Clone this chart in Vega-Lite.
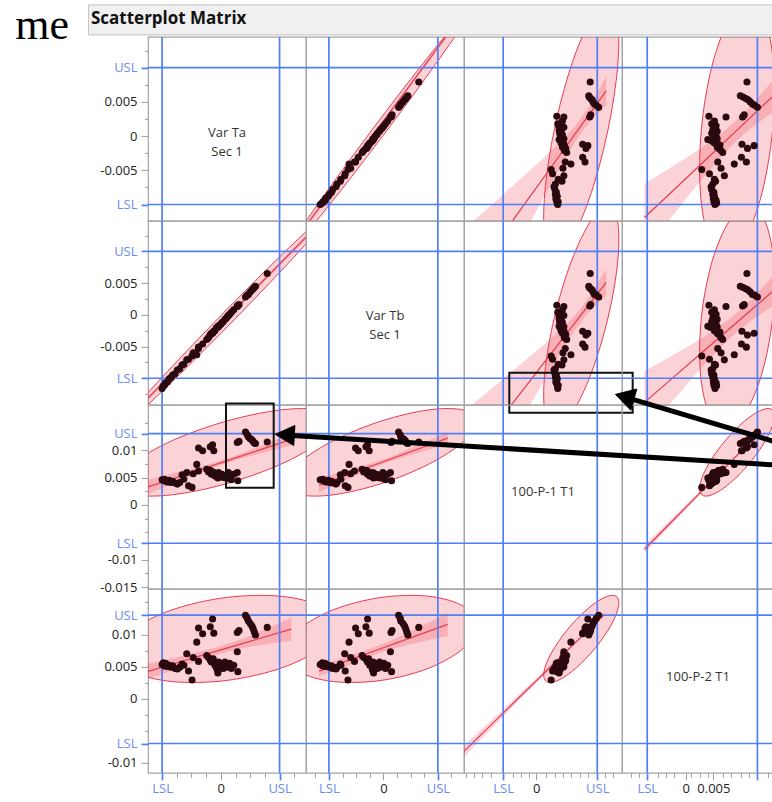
{
  "$schema": "https://vega.github.io/schema/vega-lite/v6.json",
  "background": "white",
  "padding": {"left": 14, "top": 3.4, "right": 0, "bottom": 0},
  "config": {
    "font": "Open Sans",
    "view": {"stroke": "#a4a4a4", "strokeWidth": 1.2},
    "axis": {"domain": false, "grid": false, "labelFont": "Open Sans", "labelFontSize": 13, "labelFlush": false, "labelOverlap": false, "labelBound": false, "tickWidth": 1},
    "text": {"font": "Open Sans"}
  },
  "datasets": {
    "pts": [
      {"Ta": -0.0100, "Tb": -0.0116, "P1": 0.0046, "P2": 0.0053},
      {"Ta": -0.0098, "Tb": -0.0112, "P1": 0.0045, "P2": 0.0056},
      {"Ta": -0.0096, "Tb": -0.0111, "P1": 0.0047, "P2": 0.0051},
      {"Ta": -0.0094, "Tb": -0.0107, "P1": 0.0043, "P2": 0.0055},
      {"Ta": -0.0091, "Tb": -0.0106, "P1": 0.0042, "P2": 0.0050},
      {"Ta": -0.0088, "Tb": -0.0101, "P1": 0.0045, "P2": 0.0052},
      {"Ta": -0.0085, "Tb": -0.0099, "P1": 0.0041, "P2": 0.0049},
      {"Ta": -0.0082, "Tb": -0.0095, "P1": 0.0043, "P2": 0.0051},
      {"Ta": -0.0078, "Tb": -0.0093, "P1": 0.0040, "P2": 0.0047},
      {"Ta": -0.0074, "Tb": -0.0087, "P1": 0.0038, "P2": 0.0046},
      {"Ta": -0.0070, "Tb": -0.0085, "P1": 0.0041, "P2": 0.0049},
      {"Ta": -0.0066, "Tb": -0.0079, "P1": 0.0055, "P2": 0.0054},
      {"Ta": -0.0063, "Tb": -0.0078, "P1": 0.0047, "P2": 0.0052},
      {"Ta": -0.0058, "Tb": -0.0071, "P1": 0.0059, "P2": 0.0070},
      {"Ta": -0.0055, "Tb": -0.0070, "P1": 0.0035, "P2": 0.0043},
      {"Ta": -0.0049, "Tb": -0.0065, "P1": 0.0032, "P2": 0.0029},
      {"Ta": -0.0047, "Tb": -0.0060, "P1": 0.0057, "P2": 0.0064},
      {"Ta": -0.0041, "Tb": -0.0063, "P1": 0.0074, "P2": 0.0088},
      {"Ta": -0.0038, "Tb": -0.0053, "P1": 0.0062, "P2": 0.0058},
      {"Ta": -0.0038, "Tb": -0.0051, "P1": 0.0104, "P2": 0.0110},
      {"Ta": -0.0031, "Tb": -0.0046, "P1": 0.0099, "P2": 0.0101},
      {"Ta": -0.0014, "Tb": -0.0029, "P1": 0.0110, "P2": 0.0124},
      {"Ta": -0.0018, "Tb": -0.0032, "P1": 0.0106, "P2": 0.0112},
      {"Ta": -0.0012, "Tb": -0.0026, "P1": 0.0099, "P2": 0.0102},
      {"Ta": -0.0024, "Tb": -0.0039, "P1": 0.0065, "P2": 0.0067},
      {"Ta": -0.0021, "Tb": -0.0036, "P1": 0.0060, "P2": 0.0064},
      {"Ta": -0.0018, "Tb": -0.0031, "P1": 0.0063, "P2": 0.0060},
      {"Ta": -0.0016, "Tb": -0.0029, "P1": 0.0056, "P2": 0.0057},
      {"Ta": -0.0013, "Tb": -0.0027, "P1": 0.0060, "P2": 0.0062},
      {"Ta": -0.0010, "Tb": -0.0025, "P1": 0.0053, "P2": 0.0052},
      {"Ta": -0.0008, "Tb": -0.0021, "P1": 0.0057, "P2": 0.0049},
      {"Ta": -0.0006, "Tb": -0.0020, "P1": 0.0051, "P2": 0.0045},
      {"Ta": -0.0005, "Tb": -0.0018, "P1": 0.0049, "P2": 0.0040},
      {"Ta": -0.0004, "Tb": -0.0019, "P1": 0.0059, "P2": 0.0057},
      {"Ta": -0.0002, "Tb": -0.0016, "P1": 0.0055, "P2": 0.0050},
      {"Ta": 0.0000, "Tb": -0.0015, "P1": 0.0052, "P2": 0.0055},
      {"Ta": 0.0002, "Tb": -0.0012, "P1": 0.0056, "P2": 0.0052},
      {"Ta": 0.0004, "Tb": -0.0011, "P1": 0.0050, "P2": 0.0047},
      {"Ta": 0.0007, "Tb": -0.0007, "P1": 0.0053, "P2": 0.0057},
      {"Ta": 0.0009, "Tb": -0.0006, "P1": 0.0049, "P2": 0.0049},
      {"Ta": 0.0011, "Tb": -0.0003, "P1": 0.0054, "P2": 0.0053},
      {"Ta": 0.0013, "Tb": -0.0001, "P1": 0.0059, "P2": 0.0050},
      {"Ta": 0.0015, "Tb": 0.0001, "P1": 0.0048, "P2": 0.0055},
      {"Ta": 0.0018, "Tb": 0.0004, "P1": 0.0046, "P2": 0.0047},
      {"Ta": 0.0022, "Tb": 0.0008, "P1": 0.0056, "P2": 0.0052},
      {"Ta": 0.0028, "Tb": 0.0013, "P1": 0.0059, "P2": 0.0073},
      {"Ta": 0.0029, "Tb": 0.0015, "P1": 0.0044, "P2": 0.0042},
      {"Ta": 0.0028, "Tb": 0.0014, "P1": 0.0114, "P2": 0.0103},
      {"Ta": 0.0031, "Tb": 0.0016, "P1": 0.0116, "P2": 0.0106},
      {"Ta": 0.0042, "Tb": 0.0028, "P1": 0.0133, "P2": 0.0130},
      {"Ta": 0.0045, "Tb": 0.0031, "P1": 0.0128, "P2": 0.0125},
      {"Ta": 0.0047, "Tb": 0.0032, "P1": 0.0124, "P2": 0.0121},
      {"Ta": 0.0050, "Tb": 0.0036, "P1": 0.0121, "P2": 0.0117},
      {"Ta": 0.0053, "Tb": 0.0039, "P1": 0.0119, "P2": 0.0113},
      {"Ta": 0.0055, "Tb": 0.0041, "P1": 0.0116, "P2": 0.0109},
      {"Ta": 0.0057, "Tb": 0.0043, "P1": 0.0113, "P2": 0.0104},
      {"Ta": 0.0059, "Tb": 0.0045, "P1": 0.0112, "P2": 0.0099},
      {"Ta": 0.0079, "Tb": 0.0065, "P1": 0.0115, "P2": 0.0111}
    ],
    "ell": [
      {"k": "TaTb", "i": 0, "a": 0.0197, "b": 0.01704},
      {"k": "TaTb", "i": 1, "a": 0.01722, "b": 0.01541},
      {"k": "TaTb", "i": 2, "a": 0.01045, "b": 0.00953},
      {"k": "TaTb", "i": 3, "a": 0.0012, "b": 0.0010},
      {"k": "TaTb", "i": 4, "a": -0.00805, "b": -0.00791},
      {"k": "TaTb", "i": 5, "a": -0.01482, "b": -0.01481},
      {"k": "TaTb", "i": 6, "a": -0.0173, "b": -0.01784},
      {"k": "TaTb", "i": 7, "a": -0.01482, "b": -0.01621},
      {"k": "TaTb", "i": 8, "a": -0.00805, "b": -0.01033},
      {"k": "TaTb", "i": 9, "a": 0.0012, "b": -0.0018},
      {"k": "TaTb", "i": 10, "a": 0.01045, "b": 0.00711},
      {"k": "TaTb", "i": 11, "a": 0.01722, "b": 0.01401},
      {"k": "TaP1", "i": 0, "a": 0.0195, "b": 0.0152},
      {"k": "TaP1", "i": 1, "a": 0.01702, "b": 0.01731},
      {"k": "TaP1", "i": 2, "a": 0.01025, "b": 0.01735},
      {"k": "TaP1", "i": 3, "a": 0.001, "b": 0.01531},
      {"k": "TaP1", "i": 4, "a": -0.00825, "b": 0.01175},
      {"k": "TaP1", "i": 5, "a": -0.01502, "b": 0.00761},
      {"k": "TaP1", "i": 6, "a": -0.0175, "b": 0.0040},
      {"k": "TaP1", "i": 7, "a": -0.01502, "b": 0.00189},
      {"k": "TaP1", "i": 8, "a": -0.00825, "b": 0.00185},
      {"k": "TaP1", "i": 9, "a": 0.001, "b": 0.00389},
      {"k": "TaP1", "i": 10, "a": 0.01025, "b": 0.00745},
      {"k": "TaP1", "i": 11, "a": 0.01702, "b": 0.01159},
      {"k": "TaP2", "i": 0, "a": 0.0195, "b": 0.01141},
      {"k": "TaP2", "i": 1, "a": 0.01702, "b": 0.01436},
      {"k": "TaP2", "i": 2, "a": 0.01025, "b": 0.01595},
      {"k": "TaP2", "i": 3, "a": 0.001, "b": 0.01577},
      {"k": "TaP2", "i": 4, "a": -0.00825, "b": 0.01385},
      {"k": "TaP2", "i": 5, "a": -0.01502, "b": 0.01071},
      {"k": "TaP2", "i": 6, "a": -0.0175, "b": 0.00719},
      {"k": "TaP2", "i": 7, "a": -0.01502, "b": 0.00424},
      {"k": "TaP2", "i": 8, "a": -0.00825, "b": 0.00265},
      {"k": "TaP2", "i": 9, "a": 0.001, "b": 0.00283},
      {"k": "TaP2", "i": 10, "a": 0.01025, "b": 0.00475},
      {"k": "TaP2", "i": 11, "a": 0.01702, "b": 0.00789},
      {"k": "TbP1", "i": 0, "a": 0.0171, "b": 0.0152},
      {"k": "TbP1", "i": 1, "a": 0.01476, "b": 0.01731},
      {"k": "TbP1", "i": 2, "a": 0.00835, "b": 0.01735},
      {"k": "TbP1", "i": 3, "a": -0.0004, "b": 0.01531},
      {"k": "TbP1", "i": 4, "a": -0.00915, "b": 0.01175},
      {"k": "TbP1", "i": 5, "a": -0.01556, "b": 0.00761},
      {"k": "TbP1", "i": 6, "a": -0.0179, "b": 0.0040},
      {"k": "TbP1", "i": 7, "a": -0.01556, "b": 0.00189},
      {"k": "TbP1", "i": 8, "a": -0.00915, "b": 0.00185},
      {"k": "TbP1", "i": 9, "a": -0.0004, "b": 0.00389},
      {"k": "TbP1", "i": 10, "a": 0.00835, "b": 0.00745},
      {"k": "TbP1", "i": 11, "a": 0.01476, "b": 0.01159},
      {"k": "TbP2", "i": 0, "a": 0.0171, "b": 0.01141},
      {"k": "TbP2", "i": 1, "a": 0.01476, "b": 0.01436},
      {"k": "TbP2", "i": 2, "a": 0.00835, "b": 0.01595},
      {"k": "TbP2", "i": 3, "a": -0.0004, "b": 0.01577},
      {"k": "TbP2", "i": 4, "a": -0.00915, "b": 0.01385},
      {"k": "TbP2", "i": 5, "a": -0.01556, "b": 0.01071},
      {"k": "TbP2", "i": 6, "a": -0.0179, "b": 0.00719},
      {"k": "TbP2", "i": 7, "a": -0.01556, "b": 0.00424},
      {"k": "TbP2", "i": 8, "a": -0.00915, "b": 0.00265},
      {"k": "TbP2", "i": 9, "a": -0.0004, "b": 0.00283},
      {"k": "TbP2", "i": 10, "a": 0.00835, "b": 0.00475},
      {"k": "TbP2", "i": 11, "a": 0.01476, "b": 0.00789},
      {"k": "P1P2", "i": 0, "a": 0.0176, "b": 0.01494},
      {"k": "P1P2", "i": 1, "a": 0.01653, "b": 0.01609},
      {"k": "P1P2", "i": 2, "a": 0.0136, "b": 0.01541},
      {"k": "P1P2", "i": 3, "a": 0.0096, "b": 0.01309},
      {"k": "P1P2", "i": 4, "a": 0.0056, "b": 0.00976},
      {"k": "P1P2", "i": 5, "a": 0.00267, "b": 0.00631},
      {"k": "P1P2", "i": 6, "a": 0.0016, "b": 0.00366},
      {"k": "P1P2", "i": 7, "a": 0.00267, "b": 0.00251},
      {"k": "P1P2", "i": 8, "a": 0.0056, "b": 0.00319},
      {"k": "P1P2", "i": 9, "a": 0.0096, "b": 0.00551},
      {"k": "P1P2", "i": 10, "a": 0.0136, "b": 0.00884},
      {"k": "P1P2", "i": 11, "a": 0.01653, "b": 0.01229}
    ],
    "fit": [
      {"p": "r1c2", "x": -0.0142, "fit": -0.0131, "lo": -0.0134, "hi": -0.0128},
      {"p": "r1c2", "x": 0.0148, "fit": 0.0181, "lo": 0.0178, "hi": 0.0184},
      {"p": "r2c1", "x": -0.0124, "fit": -0.01313, "lo": -0.01343, "hi": -0.01283},
      {"p": "r2c1", "x": 0.0145, "fit": 0.01224, "lo": 0.01194, "hi": 0.01254},
      {"p": "r1c3", "x": -0.0153, "fit": -0.0222, "lo": -0.0308, "hi": -0.0136},
      {"p": "r1c3", "x": -0.008, "fit": -0.01525, "lo": -0.02135, "hi": -0.00915},
      {"p": "r1c3", "x": -0.002, "fit": -0.00952, "lo": -0.01362, "hi": -0.00542},
      {"p": "r1c3", "x": 0.004, "fit": -0.00379, "lo": -0.00599, "hi": -0.00159},
      {"p": "r1c3", "x": 0.0096, "fit": 0.00156, "lo": 0.00046, "hi": 0.00266},
      {"p": "r1c3", "x": 0.0149, "fit": 0.00662, "lo": 0.00452, "hi": 0.00872},
      {"p": "r2c3", "x": -0.0153, "fit": -0.0238, "lo": -0.0324, "hi": -0.0152},
      {"p": "r2c3", "x": -0.008, "fit": -0.01682, "lo": -0.02292, "hi": -0.01072},
      {"p": "r2c3", "x": -0.002, "fit": -0.01107, "lo": -0.01517, "hi": -0.00697},
      {"p": "r2c3", "x": 0.004, "fit": -0.00533, "lo": -0.00753, "hi": -0.00313},
      {"p": "r2c3", "x": 0.0096, "fit": 0.00003, "lo": -0.00107, "hi": 0.00113},
      {"p": "r2c3", "x": 0.0149, "fit": 0.0051, "lo": 0.0030, "hi": 0.0072},
      {"p": "r1c4", "x": -0.0075, "fit": -0.01191, "lo": -0.01685, "hi": -0.00697},
      {"p": "r1c4", "x": -0.002, "fit": -0.00773, "lo": -0.01123, "hi": -0.00423},
      {"p": "r1c4", "x": 0.004, "fit": -0.00316, "lo": -0.00527, "hi": -0.00105},
      {"p": "r1c4", "x": 0.0093, "fit": 0.00087, "lo": -0.00063, "hi": 0.00237},
      {"p": "r1c4", "x": 0.0171, "fit": 0.00681, "lo": 0.00416, "hi": 0.00946},
      {"p": "r2c4", "x": -0.0075, "fit": -0.01381, "lo": -0.01875, "hi": -0.00887},
      {"p": "r2c4", "x": -0.002, "fit": -0.00967, "lo": -0.01317, "hi": -0.00617},
      {"p": "r2c4", "x": 0.004, "fit": -0.00516, "lo": -0.00727, "hi": -0.00305},
      {"p": "r2c4", "x": 0.0093, "fit": -0.00118, "lo": -0.00268, "hi": 0.00032},
      {"p": "r2c4", "x": 0.0171, "fit": 0.00469, "lo": 0.00204, "hi": 0.00734},
      {"p": "r3c1", "x": -0.0124, "fit": 0.00329, "lo": 0.00199, "hi": 0.00459},
      {"p": "r3c1", "x": -0.006, "fit": 0.00556, "lo": 0.0048, "hi": 0.00632},
      {"p": "r3c1", "x": 0.001, "fit": 0.00805, "lo": 0.00765, "hi": 0.00845},
      {"p": "r3c1", "x": 0.007, "fit": 0.01018, "lo": 0.0095, "hi": 0.01086},
      {"p": "r3c1", "x": 0.012, "fit": 0.01196, "lo": 0.01087, "hi": 0.01305},
      {"p": "r4c1", "x": -0.0124, "fit": 0.00424, "lo": 0.00304, "hi": 0.00544},
      {"p": "r4c1", "x": -0.006, "fit": 0.00597, "lo": 0.00517, "hi": 0.00677},
      {"p": "r4c1", "x": 0.001, "fit": 0.00786, "lo": 0.00726, "hi": 0.00846},
      {"p": "r4c1", "x": 0.007, "fit": 0.00948, "lo": 0.00838, "hi": 0.01058},
      {"p": "r4c1", "x": 0.012, "fit": 0.01083, "lo": 0.00903, "hi": 0.01263},
      {"p": "r3c2", "x": -0.0118, "fit": 0.0036, "lo": 0.0023, "hi": 0.0049},
      {"p": "r3c2", "x": -0.006, "fit": 0.00571, "lo": 0.00491, "hi": 0.00651},
      {"p": "r3c2", "x": -0.0004, "fit": 0.00775, "lo": 0.00735, "hi": 0.00815},
      {"p": "r3c2", "x": 0.006, "fit": 0.01008, "lo": 0.00938, "hi": 0.01078},
      {"p": "r3c2", "x": 0.0118, "fit": 0.0122, "lo": 0.0111, "hi": 0.0133},
      {"p": "r4c2", "x": -0.0118, "fit": 0.00428, "lo": 0.00348, "hi": 0.00508},
      {"p": "r4c2", "x": -0.006, "fit": 0.00607, "lo": 0.00537, "hi": 0.00677},
      {"p": "r4c2", "x": -0.0004, "fit": 0.0078, "lo": 0.0072, "hi": 0.0084},
      {"p": "r4c2", "x": 0.006, "fit": 0.00978, "lo": 0.00868, "hi": 0.01088},
      {"p": "r4c2", "x": 0.0118, "fit": 0.01157, "lo": 0.00977, "hi": 0.01337},
      {"p": "r3c4", "x": -0.0075, "fit": -0.00809, "lo": -0.00879, "hi": -0.00739},
      {"p": "r3c4", "x": -0.002, "fit": -0.00248, "lo": -0.00298, "hi": -0.00198},
      {"p": "r3c4", "x": 0.004, "fit": 0.00364, "lo": 0.00334, "hi": 0.00394},
      {"p": "r3c4", "x": 0.0093, "fit": 0.00905, "lo": 0.00885, "hi": 0.00925},
      {"p": "r3c4", "x": 0.0135, "fit": 0.01333, "lo": 0.01303, "hi": 0.01363},
      {"p": "r4c3", "x": -0.0153, "fit": -0.00819, "lo": -0.00909, "hi": -0.00729},
      {"p": "r4c3", "x": -0.008, "fit": -0.00296, "lo": -0.00356, "hi": -0.00236},
      {"p": "r4c3", "x": -0.001, "fit": 0.00204, "lo": 0.00164, "hi": 0.00244},
      {"p": "r4c3", "x": 0.005, "fit": 0.00633, "lo": 0.00608, "hi": 0.00658},
      {"p": "r4c3", "x": 0.0096, "fit": 0.00963, "lo": 0.00943, "hi": 0.00983},
      {"p": "r4c3", "x": 0.0145, "fit": 0.01313, "lo": 0.01283, "hi": 0.01343}
    ],
    "lims": [
      {"v": "Ta", "lim": -0.01}, {"v": "Ta", "lim": 0.01},
      {"v": "Tb", "lim": -0.01}, {"v": "Tb", "lim": 0.01},
      {"v": "P1", "lim": -0.007}, {"v": "P1", "lim": 0.013},
      {"v": "P2", "lim": -0.007}, {"v": "P2", "lim": 0.013}
    ],
    "boxes": [
      {"p": "r3c1", "x1": 0.00088, "x2": 0.0090, "y1": 0.00315, "y2": 0.01853},
      {"p": "r2c3", "x1": -0.0057, "x2": 0.02053, "y1": -0.01543, "y2": -0.00912}
    ],
    "shafts": [
      {"id": 1, "x1": 0.0159, "y1": 0.00731, "x2": -0.07143, "y2": 0.01269},
      {"id": 2, "x1": 0.0159, "y1": 0.01163, "x2": -0.00978, "y2": 0.01932}
    ],
    "heads": [
      {"id": 1, "i": 0, "x": -0.07451, "y": 0.01288},
      {"id": 1, "i": 1, "x": -0.07096, "y": 0.0145},
      {"id": 1, "i": 2, "x": -0.07117, "y": 0.01085},
      {"id": 2, "i": 0, "x": -0.01276, "y": 0.02018},
      {"id": 2, "i": 1, "x": -0.00889, "y": 0.02116},
      {"id": 2, "i": 2, "x": -0.00998, "y": 0.01729}
    ]
  },
  "spacing": 2.5,
  "bounds": "flush",
  "vconcat": [
    {
      "width": 686, "height": 30,
      "view": {"fill": "#f0f0f0", "stroke": "#c4c4c4", "strokeWidth": 1},
      "data": {"values": [{"label": "Scatterplot Matrix", "pos": 0}]},
      "mark": {"type": "text", "align": "left", "baseline": "middle", "dx": 3, "dy": 0, "font": "Open Sans", "fontSize": 17, "fontWeight": "bold", "color": "#111111"},
      "encoding": {
        "x": {"field": "pos", "type": "quantitative", "scale": {"domain": [0, 1]}, "axis": null},
        "text": {"field": "label", "type": "nominal"}
      },
      "title": {"text": "me", "orient": "left", "anchor": "start", "angle": 0, "align": "left", "baseline": "alphabetic", "offset": 19, "dy": 4.5, "font": "Liberation Serif", "fontSize": 44, "fontWeight": "normal", "color": "#000000"}
    },
    {
      "spacing": 0,
      "bounds": "flush",
      "hconcat": [
        {
          "width": 60, "height": 10,
          "view": {"stroke": null},
          "data": {"values": [{}]},
          "mark": {"type": "text"},
          "encoding": {"text": {"value": ""}}
        },
        {
          "columns": 4,
          "spacing": 0,
          "bounds": "flush",
          "resolve": {"scale": {"x": "independent", "y": "independent"}},
          "concat": [
            {
              "width": 158, "height": 184,
              "layer": [
                {"data": {"name": "lims"}, "transform": [{"filter": "datum.v=='Ta'"}], "mark": {"type": "rule", "color": "#4f7ff6", "strokeWidth": 1.7},
                 "encoding": {"x": {"field": "lim", "type": "quantitative", "scale": {"domain": [-0.0124, 0.0145], "nice": false, "zero": false}, "axis": null}}},
                {"data": {"name": "lims"}, "transform": [{"filter": "datum.v=='Ta'"}], "mark": {"type": "rule", "color": "#4f7ff6", "strokeWidth": 1.7},
                 "encoding": {"y": {"field": "lim", "type": "quantitative", "scale": {"domain": [-0.0124, 0.0145], "nice": false, "zero": false},
                   "axis": {"title": null, "labelOverlap": false, "labelBound": false, "labelFlush": false, "values": [-0.01, -0.0075, -0.005, -0.0025, 0, 0.0025, 0.005, 0.0075, 0.01, 0.0125],
                     "labelExpr": "datum.value==-0.01?'LSL':datum.value==0.01?'USL':datum.value==-0.005?'-0.005':datum.value==0?'0':datum.value==0.005?'0.005':''",
                     "labelFontSize": {"condition": {"test": "indexof([-0.01,-0.005,0,0.005,0.01],datum.value)>=0", "value": 13}, "value": 0},
                     "labelColor": {"condition": {"test": "datum.value==-0.01||datum.value==0.01", "value": "#6a8cf3"}, "value": "#222222"},
                     "tickColor": {"condition": {"test": "datum.value==-0.01||datum.value==0.01", "value": "#4f7ff6"}, "value": "#9e9e9e"},
                     "tickWidth": {"condition": {"test": "datum.value==-0.01||datum.value==0.01", "value": 1.7}, "value": 1},
                     "tickSize": {"condition": {"test": "indexof([-0.01,-0.005,0,0.005,0.01],datum.value)>=0", "value": 7}, "value": 3.5},
                     "labelPadding": 4}}}},
                {"data": {"values": [{"t": ["Var Ta", "Sec 1"]}]}, "mark": {"type": "text", "fontSize": 13, "color": "#333333", "dy": 4, "lineHeight": 19}, "encoding": {"text": {"field": "t", "type": "nominal"}}}
              ]
            },
            {
              "width": 158, "height": 184,
              "layer": [
                {"data": {"name": "ell"}, "transform": [{"filter": "datum.k=='TaTb'"}],
                 "mark": {"type": "line", "interpolate": "cardinal-closed", "fill": "#ee3346", "fillOpacity": 0.22, "stroke": "#e63b50", "strokeWidth": 1, "clip": true},
                 "encoding": {"x": {"field": "b", "type": "quantitative", "scale": {"domain": [-0.0142, 0.0148], "nice": false, "zero": false}, "axis": null},
                   "y": {"field": "a", "type": "quantitative", "scale": {"domain": [-0.0124, 0.0145], "nice": false, "zero": false}, "axis": null},
                   "order": {"field": "i", "type": "quantitative"}}},
                {"data": {"name": "fit"}, "transform": [{"filter": "datum.p=='r1c2'"}], "mark": {"type": "area", "interpolate": "monotone", "fill": "#ee3346", "fillOpacity": 0.22, "clip": true},
                 "encoding": {"x": {"field": "x", "type": "quantitative", "axis": null}, "y": {"field": "lo", "type": "quantitative", "axis": null}, "y2": {"field": "hi"}}},
                {"data": {"name": "fit"}, "transform": [{"filter": "datum.p=='r1c2'"}], "mark": {"type": "line", "stroke": "#e63b50", "strokeWidth": 1.2, "clip": true},
                 "encoding": {"x": {"field": "x", "type": "quantitative", "axis": null}, "y": {"field": "fit", "type": "quantitative", "axis": null}}},
                {"data": {"name": "lims"}, "transform": [{"filter": "datum.v=='Tb'"}], "mark": {"type": "rule", "color": "#4f7ff6", "strokeWidth": 1.7}, "encoding": {"x": {"field": "lim", "type": "quantitative", "axis": null}}},
                {"data": {"name": "lims"}, "transform": [{"filter": "datum.v=='Ta'"}], "mark": {"type": "rule", "color": "#4f7ff6", "strokeWidth": 1.7}, "encoding": {"y": {"field": "lim", "type": "quantitative", "axis": null}}},
                {"data": {"name": "pts"}, "mark": {"type": "circle", "size": 50, "color": "#2a0a0f", "opacity": 1},
                 "encoding": {"x": {"field": "Tb", "type": "quantitative", "axis": null}, "y": {"field": "Ta", "type": "quantitative", "axis": null}}}
              ]
            },
            {
              "width": 158, "height": 184,
              "layer": [
                {"data": {"name": "ell"}, "transform": [{"filter": "datum.k=='TaP1'"}],
                 "mark": {"type": "line", "interpolate": "cardinal-closed", "fill": "#ee3346", "fillOpacity": 0.22, "stroke": "#e63b50", "strokeWidth": 1, "clip": true},
                 "encoding": {"x": {"field": "b", "type": "quantitative", "scale": {"domain": [-0.01533, 0.01826], "nice": false, "zero": false}, "axis": null},
                   "y": {"field": "a", "type": "quantitative", "scale": {"domain": [-0.0124, 0.0145], "nice": false, "zero": false}, "axis": null},
                   "order": {"field": "i", "type": "quantitative"}}},
                {"data": {"name": "fit"}, "transform": [{"filter": "datum.p=='r1c3'"}], "mark": {"type": "area", "interpolate": "monotone", "fill": "#ee3346", "fillOpacity": 0.22, "clip": true},
                 "encoding": {"x": {"field": "x", "type": "quantitative", "axis": null}, "y": {"field": "lo", "type": "quantitative", "axis": null}, "y2": {"field": "hi"}}},
                {"data": {"name": "fit"}, "transform": [{"filter": "datum.p=='r1c3'"}], "mark": {"type": "line", "stroke": "#e63b50", "strokeWidth": 1.2, "clip": true},
                 "encoding": {"x": {"field": "x", "type": "quantitative", "axis": null}, "y": {"field": "fit", "type": "quantitative", "axis": null}}},
                {"data": {"name": "lims"}, "transform": [{"filter": "datum.v=='P1'"}], "mark": {"type": "rule", "color": "#4f7ff6", "strokeWidth": 1.7}, "encoding": {"x": {"field": "lim", "type": "quantitative", "axis": null}}},
                {"data": {"name": "lims"}, "transform": [{"filter": "datum.v=='Ta'"}], "mark": {"type": "rule", "color": "#4f7ff6", "strokeWidth": 1.7}, "encoding": {"y": {"field": "lim", "type": "quantitative", "axis": null}}},
                {"data": {"name": "pts"}, "mark": {"type": "circle", "size": 50, "color": "#2a0a0f", "opacity": 1},
                 "encoding": {"x": {"field": "P1", "type": "quantitative", "axis": null}, "y": {"field": "Ta", "type": "quantitative", "axis": null}}}
              ]
            },
            {
              "width": 152, "height": 184,
              "layer": [
                {"data": {"name": "ell"}, "transform": [{"filter": "datum.k=='TaP2'"}],
                 "mark": {"type": "line", "interpolate": "cardinal-closed", "fill": "#ee3346", "fillOpacity": 0.22, "stroke": "#e63b50", "strokeWidth": 1, "clip": true},
                 "encoding": {"x": {"field": "b", "type": "quantitative", "scale": {"domain": [-0.01158, 0.01601], "nice": false, "zero": false}, "axis": null},
                   "y": {"field": "a", "type": "quantitative", "scale": {"domain": [-0.0124, 0.0145], "nice": false, "zero": false}, "axis": null},
                   "order": {"field": "i", "type": "quantitative"}}},
                {"data": {"name": "fit"}, "transform": [{"filter": "datum.p=='r1c4'"}], "mark": {"type": "area", "interpolate": "monotone", "fill": "#ee3346", "fillOpacity": 0.22, "clip": true},
                 "encoding": {"x": {"field": "x", "type": "quantitative", "axis": null}, "y": {"field": "lo", "type": "quantitative", "axis": null}, "y2": {"field": "hi"}}},
                {"data": {"name": "fit"}, "transform": [{"filter": "datum.p=='r1c4'"}], "mark": {"type": "line", "stroke": "#e63b50", "strokeWidth": 1.2, "clip": true},
                 "encoding": {"x": {"field": "x", "type": "quantitative", "axis": null}, "y": {"field": "fit", "type": "quantitative", "axis": null}}},
                {"data": {"name": "lims"}, "transform": [{"filter": "datum.v=='P2'"}], "mark": {"type": "rule", "color": "#4f7ff6", "strokeWidth": 1.7}, "encoding": {"x": {"field": "lim", "type": "quantitative", "axis": null}}},
                {"data": {"name": "lims"}, "transform": [{"filter": "datum.v=='Ta'"}], "mark": {"type": "rule", "color": "#4f7ff6", "strokeWidth": 1.7}, "encoding": {"y": {"field": "lim", "type": "quantitative", "axis": null}}},
                {"data": {"name": "pts"}, "mark": {"type": "circle", "size": 50, "color": "#2a0a0f", "opacity": 1},
                 "encoding": {"x": {"field": "P2", "type": "quantitative", "axis": null}, "y": {"field": "Ta", "type": "quantitative", "axis": null}}}
              ]
            },
            {
              "width": 158, "height": 184,
              "resolve": {"axis": {"x": "independent", "y": "independent"}},
              "layer": [
                {"data": {"name": "ell"}, "transform": [{"filter": "datum.k=='TaTb'"}],
                 "mark": {"type": "line", "interpolate": "cardinal-closed", "fill": "#ee3346", "fillOpacity": 0.22, "stroke": "#e63b50", "strokeWidth": 1, "clip": true},
                 "encoding": {"x": {"field": "a", "type": "quantitative", "scale": {"domain": [-0.0124, 0.0145], "nice": false, "zero": false}, "axis": null},
                   "y": {"field": "b", "type": "quantitative", "scale": {"domain": [-0.0142, 0.0148], "nice": false, "zero": false},
                     "axis": {"title": null, "labelOverlap": false, "labelBound": false, "labelFlush": false, "values": [-0.0125, -0.01, -0.0075, -0.005, -0.0025, 0, 0.0025, 0.005, 0.0075, 0.01, 0.0125],
                       "labelExpr": "datum.value==-0.01?'LSL':datum.value==0.01?'USL':datum.value==-0.005?'-0.005':datum.value==0?'0':datum.value==0.005?'0.005':''",
                       "labelFontSize": {"condition": {"test": "indexof([-0.01,-0.005,0,0.005,0.01],datum.value)>=0", "value": 13}, "value": 0},
                       "labelColor": {"condition": {"test": "datum.value==-0.01||datum.value==0.01", "value": "#6a8cf3"}, "value": "#222222"},
                       "tickColor": {"condition": {"test": "datum.value==-0.01||datum.value==0.01", "value": "#4f7ff6"}, "value": "#9e9e9e"},
                       "tickWidth": {"condition": {"test": "datum.value==-0.01||datum.value==0.01", "value": 1.7}, "value": 1},
                       "tickSize": {"condition": {"test": "indexof([-0.01,-0.005,0,0.005,0.01],datum.value)>=0", "value": 7}, "value": 3.5},
                       "labelPadding": 4}},
                   "order": {"field": "i", "type": "quantitative"}}},
                {"data": {"name": "fit"}, "transform": [{"filter": "datum.p=='r2c1'"}], "mark": {"type": "area", "interpolate": "monotone", "fill": "#ee3346", "fillOpacity": 0.22, "clip": true},
                 "encoding": {"x": {"field": "x", "type": "quantitative", "axis": null}, "y": {"field": "lo", "type": "quantitative", "axis": null}, "y2": {"field": "hi"}}},
                {"data": {"name": "fit"}, "transform": [{"filter": "datum.p=='r2c1'"}], "mark": {"type": "line", "stroke": "#e63b50", "strokeWidth": 1.2, "clip": true},
                 "encoding": {"x": {"field": "x", "type": "quantitative", "axis": null}, "y": {"field": "fit", "type": "quantitative", "axis": null}}},
                {"data": {"name": "lims"}, "transform": [{"filter": "datum.v=='Ta'"}], "mark": {"type": "rule", "color": "#4f7ff6", "strokeWidth": 1.7}, "encoding": {"x": {"field": "lim", "type": "quantitative", "axis": null}}},
                {"data": {"name": "lims"}, "transform": [{"filter": "datum.v=='Tb'"}], "mark": {"type": "rule", "color": "#4f7ff6", "strokeWidth": 1.7}, "encoding": {"y": {"field": "lim", "type": "quantitative", "axis": null}}},
                {"data": {"name": "pts"}, "mark": {"type": "circle", "size": 50, "color": "#2a0a0f", "opacity": 1},
                 "encoding": {"x": {"field": "Ta", "type": "quantitative", "axis": null}, "y": {"field": "Tb", "type": "quantitative", "axis": null}}}
              ]
            },
            {
              "width": 158, "height": 184,
              "layer": [
                {"data": {"name": "lims"}, "transform": [{"filter": "datum.v=='Tb'"}], "mark": {"type": "rule", "color": "#4f7ff6", "strokeWidth": 1.7},
                 "encoding": {"x": {"field": "lim", "type": "quantitative", "scale": {"domain": [-0.0142, 0.0148], "nice": false, "zero": false}, "axis": null}}},
                {"data": {"name": "lims"}, "transform": [{"filter": "datum.v=='Tb'"}], "mark": {"type": "rule", "color": "#4f7ff6", "strokeWidth": 1.7},
                 "encoding": {"y": {"field": "lim", "type": "quantitative", "scale": {"domain": [-0.0142, 0.0148], "nice": false, "zero": false}, "axis": null}}},
                {"data": {"values": [{"t": ["Var Tb", "Sec 1"]}]}, "mark": {"type": "text", "fontSize": 13, "color": "#333333", "dy": 3.5, "lineHeight": 19}, "encoding": {"text": {"field": "t", "type": "nominal"}}}
              ]
            },
            {
              "width": 158, "height": 184,
              "layer": [
                {"data": {"name": "ell"}, "transform": [{"filter": "datum.k=='TbP1'"}],
                 "mark": {"type": "line", "interpolate": "cardinal-closed", "fill": "#ee3346", "fillOpacity": 0.22, "stroke": "#e63b50", "strokeWidth": 1, "clip": true},
                 "encoding": {"x": {"field": "b", "type": "quantitative", "scale": {"domain": [-0.01533, 0.01826], "nice": false, "zero": false}, "axis": null},
                   "y": {"field": "a", "type": "quantitative", "scale": {"domain": [-0.0142, 0.0148], "nice": false, "zero": false}, "axis": null},
                   "order": {"field": "i", "type": "quantitative"}}},
                {"data": {"name": "fit"}, "transform": [{"filter": "datum.p=='r2c3'"}], "mark": {"type": "area", "interpolate": "monotone", "fill": "#ee3346", "fillOpacity": 0.22, "clip": true},
                 "encoding": {"x": {"field": "x", "type": "quantitative", "axis": null}, "y": {"field": "lo", "type": "quantitative", "axis": null}, "y2": {"field": "hi"}}},
                {"data": {"name": "fit"}, "transform": [{"filter": "datum.p=='r2c3'"}], "mark": {"type": "line", "stroke": "#e63b50", "strokeWidth": 1.2, "clip": true},
                 "encoding": {"x": {"field": "x", "type": "quantitative", "axis": null}, "y": {"field": "fit", "type": "quantitative", "axis": null}}},
                {"data": {"name": "lims"}, "transform": [{"filter": "datum.v=='P1'"}], "mark": {"type": "rule", "color": "#4f7ff6", "strokeWidth": 1.7}, "encoding": {"x": {"field": "lim", "type": "quantitative", "axis": null}}},
                {"data": {"name": "lims"}, "transform": [{"filter": "datum.v=='Tb'"}], "mark": {"type": "rule", "color": "#4f7ff6", "strokeWidth": 1.7}, "encoding": {"y": {"field": "lim", "type": "quantitative", "axis": null}}},
                {"data": {"name": "pts"}, "mark": {"type": "circle", "size": 50, "color": "#2a0a0f", "opacity": 1},
                 "encoding": {"x": {"field": "P1", "type": "quantitative", "axis": null}, "y": {"field": "Tb", "type": "quantitative", "axis": null}}},
                {"data": {"name": "boxes"}, "transform": [{"filter": "datum.p=='r2c3'"}], "mark": {"type": "rect", "fillOpacity": 0, "stroke": "#111111", "strokeWidth": 2},
                 "encoding": {"x": {"field": "x1", "type": "quantitative", "axis": null}, "x2": {"field": "x2"}, "y": {"field": "y1", "type": "quantitative", "axis": null}, "y2": {"field": "y2"}}}
              ]
            },
            {
              "width": 152, "height": 184,
              "layer": [
                {"data": {"name": "ell"}, "transform": [{"filter": "datum.k=='TbP2'"}],
                 "mark": {"type": "line", "interpolate": "cardinal-closed", "fill": "#ee3346", "fillOpacity": 0.22, "stroke": "#e63b50", "strokeWidth": 1, "clip": true},
                 "encoding": {"x": {"field": "b", "type": "quantitative", "scale": {"domain": [-0.01158, 0.01601], "nice": false, "zero": false}, "axis": null},
                   "y": {"field": "a", "type": "quantitative", "scale": {"domain": [-0.0142, 0.0148], "nice": false, "zero": false}, "axis": null},
                   "order": {"field": "i", "type": "quantitative"}}},
                {"data": {"name": "fit"}, "transform": [{"filter": "datum.p=='r2c4'"}], "mark": {"type": "area", "interpolate": "monotone", "fill": "#ee3346", "fillOpacity": 0.22, "clip": true},
                 "encoding": {"x": {"field": "x", "type": "quantitative", "axis": null}, "y": {"field": "lo", "type": "quantitative", "axis": null}, "y2": {"field": "hi"}}},
                {"data": {"name": "fit"}, "transform": [{"filter": "datum.p=='r2c4'"}], "mark": {"type": "line", "stroke": "#e63b50", "strokeWidth": 1.2, "clip": true},
                 "encoding": {"x": {"field": "x", "type": "quantitative", "axis": null}, "y": {"field": "fit", "type": "quantitative", "axis": null}}},
                {"data": {"name": "lims"}, "transform": [{"filter": "datum.v=='P2'"}], "mark": {"type": "rule", "color": "#4f7ff6", "strokeWidth": 1.7}, "encoding": {"x": {"field": "lim", "type": "quantitative", "axis": null}}},
                {"data": {"name": "lims"}, "transform": [{"filter": "datum.v=='Tb'"}], "mark": {"type": "rule", "color": "#4f7ff6", "strokeWidth": 1.7}, "encoding": {"y": {"field": "lim", "type": "quantitative", "axis": null}}},
                {"data": {"name": "pts"}, "mark": {"type": "circle", "size": 50, "color": "#2a0a0f", "opacity": 1},
                 "encoding": {"x": {"field": "P2", "type": "quantitative", "axis": null}, "y": {"field": "Tb", "type": "quantitative", "axis": null}}}
              ]
            },
            {
              "width": 158, "height": 184,
              "resolve": {"axis": {"x": "independent", "y": "independent"}},
              "layer": [
                {"data": {"name": "ell"}, "transform": [{"filter": "datum.k=='TaP1'"}],
                 "mark": {"type": "line", "interpolate": "cardinal-closed", "fill": "#ee3346", "fillOpacity": 0.22, "stroke": "#e63b50", "strokeWidth": 1, "clip": true},
                 "encoding": {"x": {"field": "a", "type": "quantitative", "scale": {"domain": [-0.0124, 0.0145], "nice": false, "zero": false}, "axis": null},
                   "y": {"field": "b", "type": "quantitative", "scale": {"domain": [-0.01533, 0.01826], "nice": false, "zero": false},
                     "axis": {"title": null, "labelOverlap": false, "labelBound": false, "labelFlush": false, "values": [-0.015, -0.0125, -0.01, -0.007, -0.005, -0.0025, 0, 0.0025, 0.005, 0.0075, 0.01, 0.013, 0.015],
                       "labelExpr": "datum.value==-0.007?'LSL':datum.value==0.013?'USL':datum.value==-0.015?'-0.015':datum.value==-0.01?'-0.01':datum.value==0?'0':datum.value==0.005?'0.005':datum.value==0.01?'0.01':''",
                       "labelFontSize": {"condition": {"test": "indexof([-0.015,-0.01,-0.007,0,0.005,0.01,0.013],datum.value)>=0", "value": 13}, "value": 0},
                       "labelColor": {"condition": {"test": "datum.value==-0.007||datum.value==0.013", "value": "#6a8cf3"}, "value": "#222222"},
                       "tickColor": {"condition": {"test": "datum.value==-0.007||datum.value==0.013", "value": "#4f7ff6"}, "value": "#9e9e9e"},
                       "tickWidth": {"condition": {"test": "datum.value==-0.007||datum.value==0.013", "value": 1.7}, "value": 1},
                       "tickSize": {"condition": {"test": "indexof([-0.015,-0.01,-0.007,0,0.005,0.01,0.013],datum.value)>=0", "value": 7}, "value": 3.5},
                       "labelPadding": 4}},
                   "order": {"field": "i", "type": "quantitative"}}},
                {"data": {"name": "fit"}, "transform": [{"filter": "datum.p=='r3c1'"}], "mark": {"type": "area", "interpolate": "monotone", "fill": "#ee3346", "fillOpacity": 0.22, "clip": true},
                 "encoding": {"x": {"field": "x", "type": "quantitative", "axis": null}, "y": {"field": "lo", "type": "quantitative", "axis": null}, "y2": {"field": "hi"}}},
                {"data": {"name": "fit"}, "transform": [{"filter": "datum.p=='r3c1'"}], "mark": {"type": "line", "stroke": "#e63b50", "strokeWidth": 1.2, "clip": true},
                 "encoding": {"x": {"field": "x", "type": "quantitative", "axis": null}, "y": {"field": "fit", "type": "quantitative", "axis": null}}},
                {"data": {"name": "lims"}, "transform": [{"filter": "datum.v=='Ta'"}], "mark": {"type": "rule", "color": "#4f7ff6", "strokeWidth": 1.7}, "encoding": {"x": {"field": "lim", "type": "quantitative", "axis": null}}},
                {"data": {"name": "lims"}, "transform": [{"filter": "datum.v=='P1'"}], "mark": {"type": "rule", "color": "#4f7ff6", "strokeWidth": 1.7}, "encoding": {"y": {"field": "lim", "type": "quantitative", "axis": null}}},
                {"data": {"name": "pts"}, "mark": {"type": "circle", "size": 50, "color": "#2a0a0f", "opacity": 1},
                 "encoding": {"x": {"field": "Ta", "type": "quantitative", "axis": null}, "y": {"field": "P1", "type": "quantitative", "axis": null}}},
                {"data": {"name": "boxes"}, "transform": [{"filter": "datum.p=='r3c1'"}], "mark": {"type": "rect", "fillOpacity": 0, "stroke": "#111111", "strokeWidth": 2},
                 "encoding": {"x": {"field": "x1", "type": "quantitative", "axis": null}, "x2": {"field": "x2"}, "y": {"field": "y1", "type": "quantitative", "axis": null}, "y2": {"field": "y2"}}}
              ]
            },
            {
              "width": 158, "height": 184,
              "layer": [
                {"data": {"name": "ell"}, "transform": [{"filter": "datum.k=='TbP1'"}],
                 "mark": {"type": "line", "interpolate": "cardinal-closed", "fill": "#ee3346", "fillOpacity": 0.22, "stroke": "#e63b50", "strokeWidth": 1, "clip": true},
                 "encoding": {"x": {"field": "a", "type": "quantitative", "scale": {"domain": [-0.0142, 0.0148], "nice": false, "zero": false}, "axis": null},
                   "y": {"field": "b", "type": "quantitative", "scale": {"domain": [-0.01533, 0.01826], "nice": false, "zero": false}, "axis": null},
                   "order": {"field": "i", "type": "quantitative"}}},
                {"data": {"name": "fit"}, "transform": [{"filter": "datum.p=='r3c2'"}], "mark": {"type": "area", "interpolate": "monotone", "fill": "#ee3346", "fillOpacity": 0.22, "clip": true},
                 "encoding": {"x": {"field": "x", "type": "quantitative", "axis": null}, "y": {"field": "lo", "type": "quantitative", "axis": null}, "y2": {"field": "hi"}}},
                {"data": {"name": "fit"}, "transform": [{"filter": "datum.p=='r3c2'"}], "mark": {"type": "line", "stroke": "#e63b50", "strokeWidth": 1.2, "clip": true},
                 "encoding": {"x": {"field": "x", "type": "quantitative", "axis": null}, "y": {"field": "fit", "type": "quantitative", "axis": null}}},
                {"data": {"name": "lims"}, "transform": [{"filter": "datum.v=='Tb'"}], "mark": {"type": "rule", "color": "#4f7ff6", "strokeWidth": 1.7}, "encoding": {"x": {"field": "lim", "type": "quantitative", "axis": null}}},
                {"data": {"name": "lims"}, "transform": [{"filter": "datum.v=='P1'"}], "mark": {"type": "rule", "color": "#4f7ff6", "strokeWidth": 1.7}, "encoding": {"y": {"field": "lim", "type": "quantitative", "axis": null}}},
                {"data": {"name": "pts"}, "mark": {"type": "circle", "size": 50, "color": "#2a0a0f", "opacity": 1},
                 "encoding": {"x": {"field": "Tb", "type": "quantitative", "axis": null}, "y": {"field": "P1", "type": "quantitative", "axis": null}}}
              ]
            },
            {
              "width": 158, "height": 184,
              "layer": [
                {"data": {"name": "lims"}, "transform": [{"filter": "datum.v=='P1'"}], "mark": {"type": "rule", "color": "#4f7ff6", "strokeWidth": 1.7},
                 "encoding": {"x": {"field": "lim", "type": "quantitative", "scale": {"domain": [-0.01533, 0.01826], "nice": false, "zero": false}, "axis": null}}},
                {"data": {"name": "lims"}, "transform": [{"filter": "datum.v=='P1'"}], "mark": {"type": "rule", "color": "#4f7ff6", "strokeWidth": 1.7},
                 "encoding": {"y": {"field": "lim", "type": "quantitative", "scale": {"domain": [-0.01533, 0.01826], "nice": false, "zero": false}, "axis": null}}},
                {"data": {"values": [{"t": "100-P-1 T1"}]}, "mark": {"type": "text", "fontSize": 13, "color": "#333333", "dy": -5}, "encoding": {"text": {"field": "t", "type": "nominal"}}}
              ]
            },
            {
              "width": 152, "height": 184,
              "layer": [
                {"data": {"name": "ell"}, "transform": [{"filter": "datum.k=='P1P2'"}],
                 "mark": {"type": "line", "interpolate": "cardinal-closed", "fill": "#ee3346", "fillOpacity": 0.22, "stroke": "#e63b50", "strokeWidth": 1, "clip": true},
                 "encoding": {"x": {"field": "b", "type": "quantitative", "scale": {"domain": [-0.01158, 0.01601], "nice": false, "zero": false}, "axis": null},
                   "y": {"field": "a", "type": "quantitative", "scale": {"domain": [-0.01533, 0.01826], "nice": false, "zero": false}, "axis": null},
                   "order": {"field": "i", "type": "quantitative"}}},
                {"data": {"name": "fit"}, "transform": [{"filter": "datum.p=='r3c4'"}], "mark": {"type": "area", "interpolate": "monotone", "fill": "#ee3346", "fillOpacity": 0.22, "clip": true},
                 "encoding": {"x": {"field": "x", "type": "quantitative", "axis": null}, "y": {"field": "lo", "type": "quantitative", "axis": null}, "y2": {"field": "hi"}}},
                {"data": {"name": "fit"}, "transform": [{"filter": "datum.p=='r3c4'"}], "mark": {"type": "line", "stroke": "#e63b50", "strokeWidth": 1.2, "clip": true},
                 "encoding": {"x": {"field": "x", "type": "quantitative", "axis": null}, "y": {"field": "fit", "type": "quantitative", "axis": null}}},
                {"data": {"name": "lims"}, "transform": [{"filter": "datum.v=='P2'"}], "mark": {"type": "rule", "color": "#4f7ff6", "strokeWidth": 1.7}, "encoding": {"x": {"field": "lim", "type": "quantitative", "axis": null}}},
                {"data": {"name": "lims"}, "transform": [{"filter": "datum.v=='P1'"}], "mark": {"type": "rule", "color": "#4f7ff6", "strokeWidth": 1.7}, "encoding": {"y": {"field": "lim", "type": "quantitative", "axis": null}}},
                {"data": {"name": "pts"}, "mark": {"type": "circle", "size": 50, "color": "#2a0a0f", "opacity": 1},
                 "encoding": {"x": {"field": "P2", "type": "quantitative", "axis": null}, "y": {"field": "P1", "type": "quantitative", "axis": null}}},
                {"data": {"name": "shafts"}, "mark": {"type": "rule", "color": "#000000", "strokeWidth": 5},
                 "encoding": {"x": {"field": "x1", "type": "quantitative", "axis": null}, "y": {"field": "y1", "type": "quantitative", "axis": null}, "x2": {"field": "x2"}, "y2": {"field": "y2"}}},
                {"data": {"name": "heads"}, "mark": {"type": "line", "interpolate": "linear-closed", "fill": "#000000", "stroke": "#000000", "strokeWidth": 1},
                 "encoding": {"x": {"field": "x", "type": "quantitative", "axis": null}, "y": {"field": "y", "type": "quantitative", "axis": null}, "order": {"field": "i", "type": "quantitative"}, "detail": {"field": "id", "type": "nominal"}}}
              ]
            },
            {
              "width": 158, "height": 184,
              "resolve": {"axis": {"x": "independent", "y": "independent"}},
              "layer": [
                {"data": {"name": "ell"}, "transform": [{"filter": "datum.k=='TaP2'"}],
                 "mark": {"type": "line", "interpolate": "cardinal-closed", "fill": "#ee3346", "fillOpacity": 0.22, "stroke": "#e63b50", "strokeWidth": 1, "clip": true},
                 "encoding": {"x": {"field": "a", "type": "quantitative", "scale": {"domain": [-0.0124, 0.0145], "nice": false, "zero": false},
                     "axis": {"title": null, "labelOverlap": false, "labelBound": false, "labelFlush": false, "values": [-0.0125, -0.01, -0.0075, -0.005, -0.0025, 0, 0.0025, 0.005, 0.0075, 0.01, 0.0125],
                       "labelExpr": "datum.value==-0.01?'LSL':datum.value==0.01?'USL':datum.value==0?'0':''",
                       "labelFontSize": {"condition": {"test": "indexof([-0.01,0,0.01],datum.value)>=0", "value": 13}, "value": 0},
                       "labelColor": {"condition": {"test": "datum.value==-0.01||datum.value==0.01", "value": "#6a8cf3"}, "value": "#222222"},
                       "tickColor": {"condition": {"test": "datum.value==-0.01||datum.value==0.01", "value": "#4f7ff6"}, "value": "#9e9e9e"},
                       "tickWidth": {"condition": {"test": "datum.value==-0.01||datum.value==0.01", "value": 1.7}, "value": 1},
                       "tickSize": {"condition": {"test": "indexof([-0.01,0,0.01],datum.value)>=0", "value": 7}, "value": 4.5},
                       "labelPadding": 3}},
                   "y": {"field": "b", "type": "quantitative", "scale": {"domain": [-0.01158, 0.0171], "nice": false, "zero": false},
                     "axis": {"title": null, "labelOverlap": false, "labelBound": false, "labelFlush": false, "values": [-0.01, -0.007, -0.005, -0.0025, 0, 0.0025, 0.005, 0.0075, 0.01, 0.013, 0.015],
                       "labelExpr": "datum.value==-0.007?'LSL':datum.value==0.013?'USL':datum.value==-0.01?'-0.01':datum.value==0?'0':datum.value==0.005?'0.005':datum.value==0.01?'0.01':''",
                       "labelFontSize": {"condition": {"test": "indexof([-0.01,-0.007,0,0.005,0.01,0.013],datum.value)>=0", "value": 13}, "value": 0},
                       "labelColor": {"condition": {"test": "datum.value==-0.007||datum.value==0.013", "value": "#6a8cf3"}, "value": "#222222"},
                       "tickColor": {"condition": {"test": "datum.value==-0.007||datum.value==0.013", "value": "#4f7ff6"}, "value": "#9e9e9e"},
                       "tickWidth": {"condition": {"test": "datum.value==-0.007||datum.value==0.013", "value": 1.7}, "value": 1},
                       "tickSize": {"condition": {"test": "indexof([-0.01,-0.007,0,0.005,0.01,0.013],datum.value)>=0", "value": 7}, "value": 3.5},
                       "labelPadding": 4}},
                   "order": {"field": "i", "type": "quantitative"}}},
                {"data": {"name": "fit"}, "transform": [{"filter": "datum.p=='r4c1'"}], "mark": {"type": "area", "interpolate": "monotone", "fill": "#ee3346", "fillOpacity": 0.22, "clip": true},
                 "encoding": {"x": {"field": "x", "type": "quantitative", "axis": null}, "y": {"field": "lo", "type": "quantitative", "axis": null}, "y2": {"field": "hi"}}},
                {"data": {"name": "fit"}, "transform": [{"filter": "datum.p=='r4c1'"}], "mark": {"type": "line", "stroke": "#e63b50", "strokeWidth": 1.2, "clip": true},
                 "encoding": {"x": {"field": "x", "type": "quantitative", "axis": null}, "y": {"field": "fit", "type": "quantitative", "axis": null}}},
                {"data": {"name": "lims"}, "transform": [{"filter": "datum.v=='Ta'"}], "mark": {"type": "rule", "color": "#4f7ff6", "strokeWidth": 1.7}, "encoding": {"x": {"field": "lim", "type": "quantitative", "axis": null}}},
                {"data": {"name": "lims"}, "transform": [{"filter": "datum.v=='P2'"}], "mark": {"type": "rule", "color": "#4f7ff6", "strokeWidth": 1.7}, "encoding": {"y": {"field": "lim", "type": "quantitative", "axis": null}}},
                {"data": {"name": "pts"}, "mark": {"type": "circle", "size": 50, "color": "#2a0a0f", "opacity": 1},
                 "encoding": {"x": {"field": "Ta", "type": "quantitative", "axis": null}, "y": {"field": "P2", "type": "quantitative", "axis": null}}}
              ]
            },
            {
              "width": 158, "height": 184,
              "resolve": {"axis": {"x": "independent", "y": "independent"}},
              "layer": [
                {"data": {"name": "ell"}, "transform": [{"filter": "datum.k=='TbP2'"}],
                 "mark": {"type": "line", "interpolate": "cardinal-closed", "fill": "#ee3346", "fillOpacity": 0.22, "stroke": "#e63b50", "strokeWidth": 1, "clip": true},
                 "encoding": {"x": {"field": "a", "type": "quantitative", "scale": {"domain": [-0.0142, 0.0148], "nice": false, "zero": false},
                     "axis": {"title": null, "labelOverlap": false, "labelBound": false, "labelFlush": false, "values": [-0.0125, -0.01, -0.0075, -0.005, -0.0025, 0, 0.0025, 0.005, 0.0075, 0.01, 0.0125],
                       "labelExpr": "datum.value==-0.01?'LSL':datum.value==0.01?'USL':datum.value==0?'0':''",
                       "labelFontSize": {"condition": {"test": "indexof([-0.01,0,0.01],datum.value)>=0", "value": 13}, "value": 0},
                       "labelColor": {"condition": {"test": "datum.value==-0.01||datum.value==0.01", "value": "#6a8cf3"}, "value": "#222222"},
                       "tickColor": {"condition": {"test": "datum.value==-0.01||datum.value==0.01", "value": "#4f7ff6"}, "value": "#9e9e9e"},
                       "tickWidth": {"condition": {"test": "datum.value==-0.01||datum.value==0.01", "value": 1.7}, "value": 1},
                       "tickSize": {"condition": {"test": "indexof([-0.01,0,0.01],datum.value)>=0", "value": 7}, "value": 4.5},
                       "labelPadding": 3}},
                   "y": {"field": "b", "type": "quantitative", "scale": {"domain": [-0.01158, 0.0171], "nice": false, "zero": false}, "axis": null},
                   "order": {"field": "i", "type": "quantitative"}}},
                {"data": {"name": "fit"}, "transform": [{"filter": "datum.p=='r4c2'"}], "mark": {"type": "area", "interpolate": "monotone", "fill": "#ee3346", "fillOpacity": 0.22, "clip": true},
                 "encoding": {"x": {"field": "x", "type": "quantitative", "axis": null}, "y": {"field": "lo", "type": "quantitative", "axis": null}, "y2": {"field": "hi"}}},
                {"data": {"name": "fit"}, "transform": [{"filter": "datum.p=='r4c2'"}], "mark": {"type": "line", "stroke": "#e63b50", "strokeWidth": 1.2, "clip": true},
                 "encoding": {"x": {"field": "x", "type": "quantitative", "axis": null}, "y": {"field": "fit", "type": "quantitative", "axis": null}}},
                {"data": {"name": "lims"}, "transform": [{"filter": "datum.v=='Tb'"}], "mark": {"type": "rule", "color": "#4f7ff6", "strokeWidth": 1.7}, "encoding": {"x": {"field": "lim", "type": "quantitative", "axis": null}}},
                {"data": {"name": "lims"}, "transform": [{"filter": "datum.v=='P2'"}], "mark": {"type": "rule", "color": "#4f7ff6", "strokeWidth": 1.7}, "encoding": {"y": {"field": "lim", "type": "quantitative", "axis": null}}},
                {"data": {"name": "pts"}, "mark": {"type": "circle", "size": 50, "color": "#2a0a0f", "opacity": 1},
                 "encoding": {"x": {"field": "Tb", "type": "quantitative", "axis": null}, "y": {"field": "P2", "type": "quantitative", "axis": null}}}
              ]
            },
            {
              "width": 158, "height": 184,
              "resolve": {"axis": {"x": "independent", "y": "independent"}},
              "layer": [
                {"data": {"name": "ell"}, "transform": [{"filter": "datum.k=='P1P2'"}],
                 "mark": {"type": "line", "interpolate": "cardinal-closed", "fill": "#ee3346", "fillOpacity": 0.22, "stroke": "#e63b50", "strokeWidth": 1, "clip": true},
                 "encoding": {"x": {"field": "a", "type": "quantitative", "scale": {"domain": [-0.01533, 0.01826], "nice": false, "zero": false},
                     "axis": {"title": null, "labelOverlap": false, "labelBound": false, "labelFlush": false, "values": [-0.0149, -0.0131, -0.0114, -0.0096, -0.007, -0.005, -0.0032, -0.0015, 0, 0.0022, 0.004, 0.0058, 0.0075, 0.0093, 0.0111, 0.013, 0.0146, 0.0164],
                       "labelExpr": "datum.value==-0.007?'LSL':datum.value==0.013?'USL':datum.value==0?'0':''",
                       "labelFontSize": {"condition": {"test": "indexof([-0.007,0,0.013],datum.value)>=0", "value": 13}, "value": 0},
                       "labelColor": {"condition": {"test": "datum.value==-0.007||datum.value==0.013", "value": "#6a8cf3"}, "value": "#222222"},
                       "tickColor": {"condition": {"test": "datum.value==-0.007||datum.value==0.013", "value": "#4f7ff6"}, "value": "#9e9e9e"},
                       "tickWidth": {"condition": {"test": "datum.value==-0.007||datum.value==0.013", "value": 1.7}, "value": 1},
                       "tickSize": {"condition": {"test": "indexof([-0.007,0,0.013],datum.value)>=0", "value": 7}, "value": 4.5},
                       "labelPadding": 3}},
                   "y": {"field": "b", "type": "quantitative", "scale": {"domain": [-0.01158, 0.0171], "nice": false, "zero": false}, "axis": null},
                   "order": {"field": "i", "type": "quantitative"}}},
                {"data": {"name": "fit"}, "transform": [{"filter": "datum.p=='r4c3'"}], "mark": {"type": "area", "interpolate": "monotone", "fill": "#ee3346", "fillOpacity": 0.22, "clip": true},
                 "encoding": {"x": {"field": "x", "type": "quantitative", "axis": null}, "y": {"field": "lo", "type": "quantitative", "axis": null}, "y2": {"field": "hi"}}},
                {"data": {"name": "fit"}, "transform": [{"filter": "datum.p=='r4c3'"}], "mark": {"type": "line", "stroke": "#e63b50", "strokeWidth": 1.2, "clip": true},
                 "encoding": {"x": {"field": "x", "type": "quantitative", "axis": null}, "y": {"field": "fit", "type": "quantitative", "axis": null}}},
                {"data": {"name": "lims"}, "transform": [{"filter": "datum.v=='P1'"}], "mark": {"type": "rule", "color": "#4f7ff6", "strokeWidth": 1.7}, "encoding": {"x": {"field": "lim", "type": "quantitative", "axis": null}}},
                {"data": {"name": "lims"}, "transform": [{"filter": "datum.v=='P2'"}], "mark": {"type": "rule", "color": "#4f7ff6", "strokeWidth": 1.7}, "encoding": {"y": {"field": "lim", "type": "quantitative", "axis": null}}},
                {"data": {"name": "pts"}, "mark": {"type": "circle", "size": 50, "color": "#2a0a0f", "opacity": 1},
                 "encoding": {"x": {"field": "P1", "type": "quantitative", "axis": null}, "y": {"field": "P2", "type": "quantitative", "axis": null}}}
              ]
            },
            {
              "width": 152, "height": 184,
              "layer": [
                {"data": {"name": "lims"}, "transform": [{"filter": "datum.v=='P2'"}], "mark": {"type": "rule", "color": "#4f7ff6", "strokeWidth": 1.7},
                 "encoding": {"x": {"field": "lim", "type": "quantitative", "scale": {"domain": [-0.01158, 0.01601], "nice": false, "zero": false},
                   "axis": {"title": null, "labelOverlap": false, "labelBound": false, "labelFlush": false, "values": [-0.01, -0.0085, -0.007, -0.0051, -0.0036, -0.0021, 0, 0.0009, 0.0025, 0.004, 0.005, 0.0067, 0.0082, 0.01, 0.0115, 0.013, 0.0149],
                     "labelExpr": "datum.value==-0.007?'LSL':datum.value==0?'0':datum.value==0.005?'0.005':''",
                     "labelFontSize": {"condition": {"test": "indexof([-0.007,0,0.005],datum.value)>=0", "value": 13}, "value": 0},
                     "labelColor": {"condition": {"test": "datum.value==-0.007||datum.value==0.013", "value": "#6a8cf3"}, "value": "#222222"},
                     "tickColor": {"condition": {"test": "datum.value==-0.007||datum.value==0.013", "value": "#4f7ff6"}, "value": "#9e9e9e"},
                     "tickWidth": {"condition": {"test": "datum.value==-0.007||datum.value==0.013", "value": 1.7}, "value": 1},
                     "tickSize": {"condition": {"test": "indexof([-0.007,0,0.005,0.013],datum.value)>=0", "value": 7}, "value": 4.5},
                     "labelPadding": 3}}}},
                {"data": {"name": "lims"}, "transform": [{"filter": "datum.v=='P2'"}], "mark": {"type": "rule", "color": "#4f7ff6", "strokeWidth": 1.7},
                 "encoding": {"y": {"field": "lim", "type": "quantitative", "scale": {"domain": [-0.01158, 0.0171], "nice": false, "zero": false}, "axis": null}}},
                {"data": {"values": [{"t": "100-P-2 T1"}]}, "mark": {"type": "text", "fontSize": 13, "color": "#333333", "dy": -3.5}, "encoding": {"text": {"field": "t", "type": "nominal"}}}
              ]
            }
          ]
        }
      ]
    }
  ]
}
